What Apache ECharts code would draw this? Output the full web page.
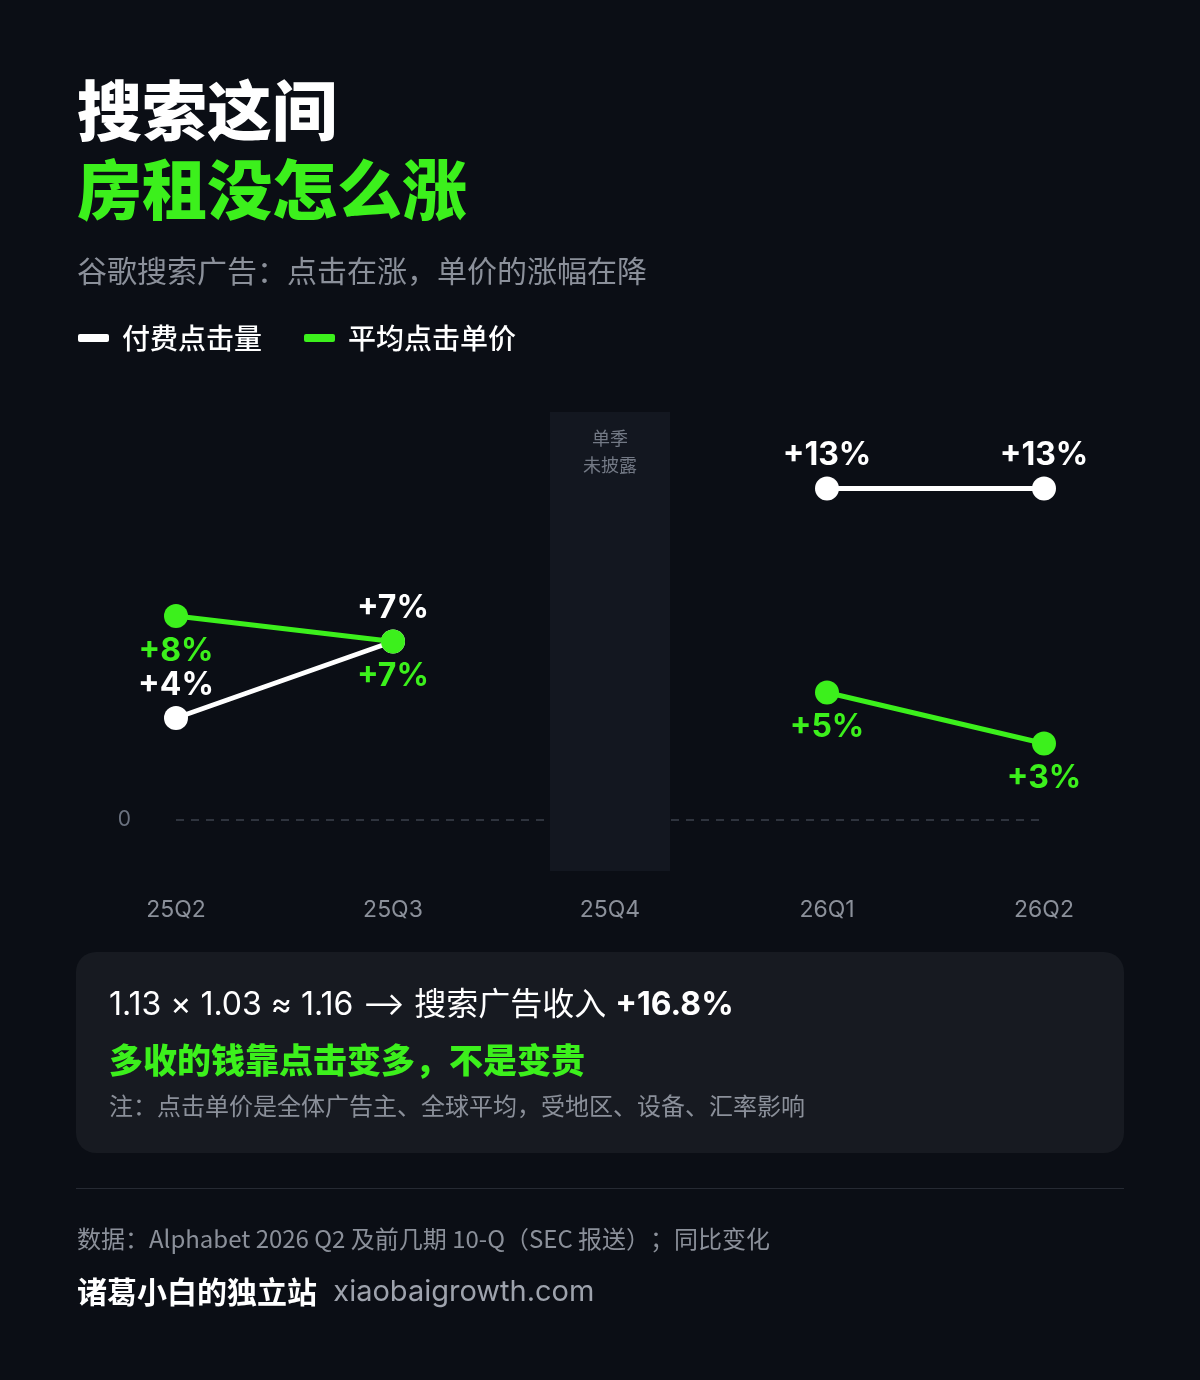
<!DOCTYPE html>
<html>
<head>
<meta charset="utf-8">
<script src="https://cdn.jsdelivr.net/npm/echarts@6/dist/echarts.min.js"></script>
<style>
  html, body { margin: 0; padding: 0; background: #0b0e15; }
  #main { width: 1200px; height: 1380px; }
</style>
</head>
<body>
<div id="main"></div>
<script>
// 季度
var quarters = ['25Q2', '25Q3', '25Q4', '26Q1', '26Q2'];
// 付费点击量同比 (%)，25Q4 未披露
var paidClicks = [4, 7, null, 13, 13];
// 平均点击单价同比 (%)
var costPerClick = [8, 7, null, 5, 3];
// 未披露的季度
var undisclosed = ['25Q4'];
var yMin = -2, yMax = 16;

var GREEN = '#3cf01c';
var CJK = "'Noto Sans CJK SC', sans-serif";
var NUM = "Inter, 'Noto Sans CJK SC', sans-serif";

var myChart = echarts.init(document.getElementById('main'));

function pct(p) { return '+' + p.value + '%'; }

myChart.setOption({
    backgroundColor: '#0b0e15',
    animation: false,
    legend: {
        left: 78,
        top: 324,
        padding: 0,
        icon: 'roundRect',
        itemWidth: 31,
        itemHeight: 8,
        itemGap: 42,
        data: ['付费点击量', '平均点击单价'],
        textStyle: { color: '#ffffff', fontSize: 28, fontWeight: 500, fontFamily: CJK, padding: [0, 0, 0, 8] }
    },
    grid: { left: 176, right: 156, top: 412, bottom: 509 },
    xAxis: {
        type: 'category',
        data: quarters,
        boundaryGap: false,
        axisLine: { show: false },
        axisTick: { show: false },
        axisLabel: { color: '#8b909a', fontSize: 23, fontFamily: NUM, margin: 28 }
    },
    yAxis: {
        type: 'value',
        min: yMin,
        max: yMax,
        interval: 2,
        splitLine: { show: false },
        axisLine: { show: false },
        axisTick: { show: false },
        axisLabel: {
            color: '#6b7280', fontSize: 21, fontFamily: NUM, margin: 45,
            formatter: function (v) { return v === 0 ? '0' : ''; }
        }
    },
    series: [
        {
            type: 'custom',
            z: 3,
            silent: true,
            data: undisclosed.map(function (q) { return [quarters.indexOf(q)]; }),
            renderItem: function (params, api) {
                var top = api.coord([api.value(0), yMax]);
                var bottom = api.coord([api.value(0), yMin]);
                var w = 120;
                return {
                    type: 'group',
                    children: [
                        {
                            type: 'rect',
                            shape: { x: top[0] - w / 2, y: top[1], width: w, height: bottom[1] - top[1] },
                            style: { fill: '#131720' }
                        },
                        {
                            type: 'text',
                            x: top[0],
                            y: top[1] + 13,
                            style: {
                                text: '单季\n未披露', fill: '#737985', font: '18px ' + CJK,
                                align: 'center', verticalAlign: 'top', lineHeight: 27
                            }
                        }
                    ]
                };
            }
        },
        {
            name: '付费点击量',
            type: 'line',
            z: 5,
            data: paidClicks,
            color: '#ffffff',
            lineStyle: { width: 5, color: '#ffffff' },
            symbol: 'circle',
            symbolSize: 24,
            itemStyle: { color: '#ffffff' },
            label: {
                show: true, position: 'top', distance: 5, formatter: pct,
                color: '#ffffff', fontSize: 32, fontWeight: 'bold', fontFamily: NUM
            },
            markLine: {
                silent: true,
                symbol: 'none',
                z: 1,
                label: { show: false },
                lineStyle: { type: [8, 7], width: 1.5, color: '#3c414c' },
                data: [{ yAxis: 0 }]
            }
        },
        {
            name: '平均点击单价',
            type: 'line',
            z: 6,
            data: costPerClick,
            color: GREEN,
            lineStyle: { width: 5, color: GREEN },
            symbol: 'circle',
            symbolSize: 24,
            itemStyle: { color: GREEN },
            label: {
                show: true, position: 'bottom', distance: 7, formatter: pct,
                color: GREEN, fontSize: 32, fontWeight: 'bold', fontFamily: NUM
            }
        }
    ],
    graphic: [
        { type: 'text', left: 77, top: 78, style: { text: '搜索这间', fill: '#ffffff', font: '900 65px ' + CJK } },
        { type: 'text', left: 77, top: 157, style: { text: '房租没怎么涨', fill: GREEN, font: '900 65px ' + CJK } },
        { type: 'text', left: 77, top: 256, style: { text: '谷歌搜索广告：点击在涨，单价的涨幅在降', fill: '#8b909a', font: '30px ' + CJK } },
        { type: 'rect', left: 76, top: 952, shape: { width: 1048, height: 201, r: 20 }, style: { fill: '#171a21' } },
        {
            type: 'text', left: 109, top: 989,
            style: {
                text: '{a|1.13 × 1.03 ≈ 1.16 ⟶ 搜索广告收入 }{b|+16.8%}',
                rich: {
                    a: { fill: '#ffffff', font: '32px ' + NUM },
                    b: { fill: '#ffffff', font: 'bold 32px ' + NUM }
                }
            }
        },
        { type: 'text', left: 109, top: 1043, style: { text: '多收的钱靠点击变多，不是变贵', fill: GREEN, font: '900 34px ' + CJK } },
        { type: 'text', left: 109, top: 1094, style: { text: '注：点击单价是全体广告主、全球平均，受地区、设备、汇率影响', fill: '#8b909a', font: '24px ' + CJK } },
        { type: 'rect', left: 76, top: 1188, shape: { width: 1048, height: 1 }, style: { fill: '#262a33' } },
        { type: 'text', left: 77, top: 1227, style: { text: '数据：Alphabet 2026 Q2 及前几期 10-Q（SEC 报送）；同比变化', fill: '#8b909a', font: '24px ' + CJK } },
        {
            type: 'text', left: 77, top: 1277,
            style: {
                text: '{a|诸葛小白的独立站}{b|  xiaobaigrowth.com}',
                rich: {
                    a: { fill: '#ffffff', font: 'bold 30px ' + CJK },
                    b: { fill: '#9ea3ad', font: '29px ' + NUM }
                }
            }
        }
    ]
});
</script>
</body>
</html>
